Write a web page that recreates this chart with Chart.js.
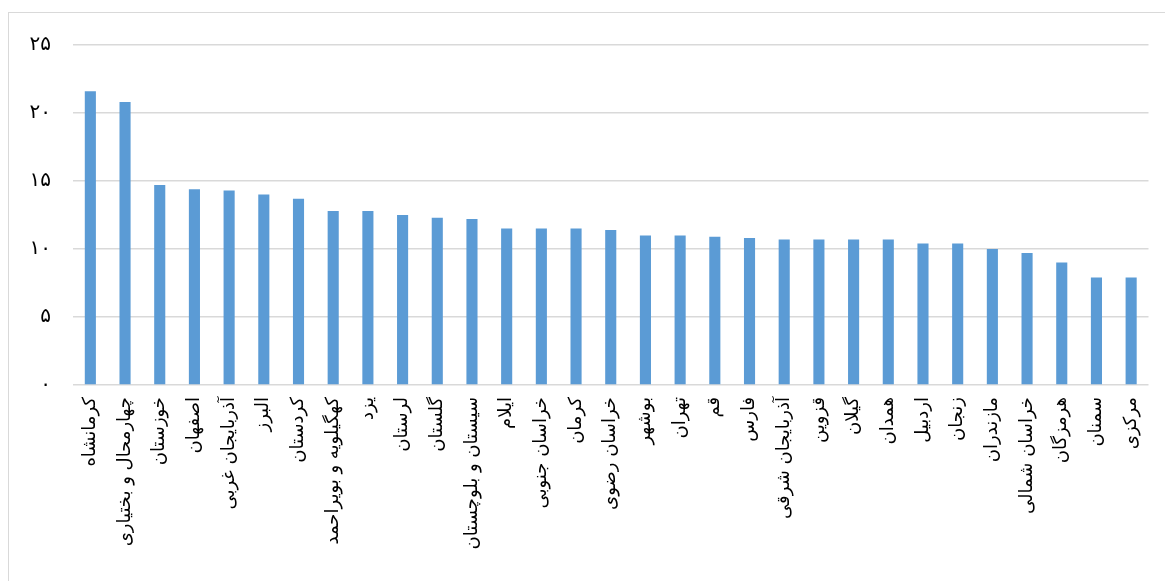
<!DOCTYPE html>
<html>
<head>
<meta charset="utf-8">
<script src="https://cdn.jsdelivr.net/npm/chart.js@4.4.1/dist/chart.umd.min.js"></script>
<style>
  html, body { margin: 0; padding: 0; background: #fff; overflow: hidden; }
  #wrap { position: relative; width: 1165px; height: 581px; overflow: hidden; }
  #frame { position: absolute; left: 8px; top: 12px; width: 1300px; height: 700px; border: 1px solid #D9D9D9; box-sizing: border-box; }
  #c { position: absolute; left: 0; top: 0; }
</style>
</head>
<body>
<div id="wrap">
  <div id="frame"></div>
  <canvas id="c" width="1165" height="581"></canvas>
</div>
<script>
const provinces = ['کرمانشاه','چهارمحال و بختیاری','خوزستان','اصفهان','آذربایجان غربی','البرز','کردستان','کهگیلویه و بویراحمد','یزد','لرستان','گلستان','سیستان و بلوچستان','ایلام','خراسان جنوبی','کرمان','خراسان رضوی','بوشهر','تهران','قم','فارس','آذربایجان شرقی','قزوین','گیلان','همدان','اردبیل','زنجان','مازندران','خراسان شمالی','هرمزگان','سمنان','مرکزی'];
const rates = [21.6, 20.8, 14.7, 14.4, 14.3, 14.0, 13.7, 12.8, 12.8, 12.5, 12.3, 12.2, 11.5, 11.5, 11.5, 11.4, 11.0, 11.0, 10.9, 10.8, 10.7, 10.7, 10.7, 10.7, 10.4, 10.4, 10.0, 9.7, 9.0, 7.9, 7.9];
const yTickValues = [0, 5, 10, 15, 20, 25];
const yTickLabels = ['۰','۵','۱۰','۱۵','۲۰','۲۵'];

new Chart(document.getElementById('c'), {
  type: 'bar',
  data: {
    labels: provinces,
    datasets: [{
      data: rates,
      backgroundColor: '#5B9BD5',
      borderWidth: 0,
      barPercentage: 0.32,
      categoryPercentage: 1.0
    }]
  },
  options: {
    responsive: false,
    animation: false,
    devicePixelRatio: 1,
    layout: { padding: { top: 45, right: 16, left: 0, bottom: 0 } },
    plugins: { legend: { display: false }, tooltip: { enabled: false }, title: { display: false } },
    scales: {
      x: {
        grid: { display: false, drawTicks: false },
        border: { display: false },
        ticks: {
          autoSkip: false,
          minRotation: 90,
          maxRotation: 90,
          padding: 12,
          color: '#000',
          font: { family: 'DejaVu Sans', size: 18 }
        },
        afterFit: s => { s.height = 196; }
      },
      y: {
        min: 0, max: 25,
        grid: { color: '#D9D9D9', lineWidth: 1.5, drawTicks: false },
        border: { display: false },
        afterBuildTicks: s => { s.ticks = yTickValues.map(v => ({ value: v })); },
        ticks: {
          padding: 22,
          color: '#000',
          font: { family: 'DejaVu Sans', size: 20 },
          callback: v => yTickLabels[yTickValues.indexOf(v)]
        },
        afterFit: s => { s.width = 73; }
      }
    }
  }
});
</script>
</body>
</html>
